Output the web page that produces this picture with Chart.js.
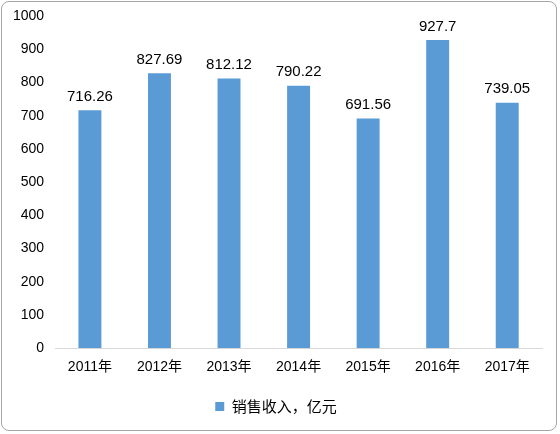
<!DOCTYPE html>
<html>
<head>
<meta charset="utf-8">
<script src="https://cdn.jsdelivr.net/npm/chart.js@4"></script>
<style>
  body { margin: 0; background: #fff; }
  #wrap { position: absolute; left: 1px; top: 1px; width: 556px; height: 430px;
          border: 1px solid #a6a6a6; border-radius: 8px; box-sizing: border-box; }
</style>
</head>
<body>
<div id="wrap"><canvas id="chart"></canvas></div>
<script>
const years = ['2011年', '2012年', '2013年', '2014年', '2015年', '2016年', '2017年'];
const sales = [716.26, 827.69, 812.12, 790.22, 691.56, 927.7, 739.05];
const labels = ['716.26', '827.69', '812.12', '790.22', '691.56', '927.7', '739.05'];

// Draw value labels above each bar
const valueLabels = {
    id: 'valueLabels',
    afterDatasetsDraw(chart) {
        const ctx = chart.ctx;
        const meta = chart.getDatasetMeta(0);
        ctx.save();
        ctx.font = '15px "Liberation Sans", "Noto Sans CJK SC", sans-serif';
        ctx.fillStyle = '#000';
        ctx.textAlign = 'center';
        ctx.textBaseline = 'bottom';
        meta.data.forEach((bar, i) => {
            ctx.fillText(labels[i], bar.x, bar.y - 6);
        });
        ctx.restore();
    }
};

new Chart(document.getElementById('chart'), {
    type: 'bar',
    data: {
        labels: years,
        datasets: [{
            label: '销售收入，亿元',
            data: sales,
            backgroundColor: '#5b9bd5',
            barPercentage: 0.33,
            categoryPercentage: 1.0
        }]
    },
    options: {
        responsive: true,
        maintainAspectRatio: false,
        animation: false,
        layout: { padding: { left: 8, right: 14, top: 14, bottom: 6 } },
        scales: {
            y: {
                min: 0, max: 1000,
                ticks: { stepSize: 100, color: '#000', callback: v => String(v),
                         font: { size: 14, family: '"Liberation Sans", sans-serif' } },
                grid: { display: false },
                border: { display: false }
            },
            x: {
                ticks: { color: '#000', font: { size: 14, family: '"Liberation Sans", "Noto Sans CJK SC", sans-serif' } },
                grid: { display: false },
                border: { color: '#d9d9d9' }
            }
        },
        plugins: {
            legend: {
                position: 'bottom',
                labels: {
                    color: '#000', boxWidth: 9, boxHeight: 9, padding: 20,
                    font: { size: 15, family: '"Noto Sans CJK SC", sans-serif' }
                }
            },
            tooltip: { enabled: false }
        }
    },
    plugins: [valueLabels]
});
</script>
</body>
</html>
